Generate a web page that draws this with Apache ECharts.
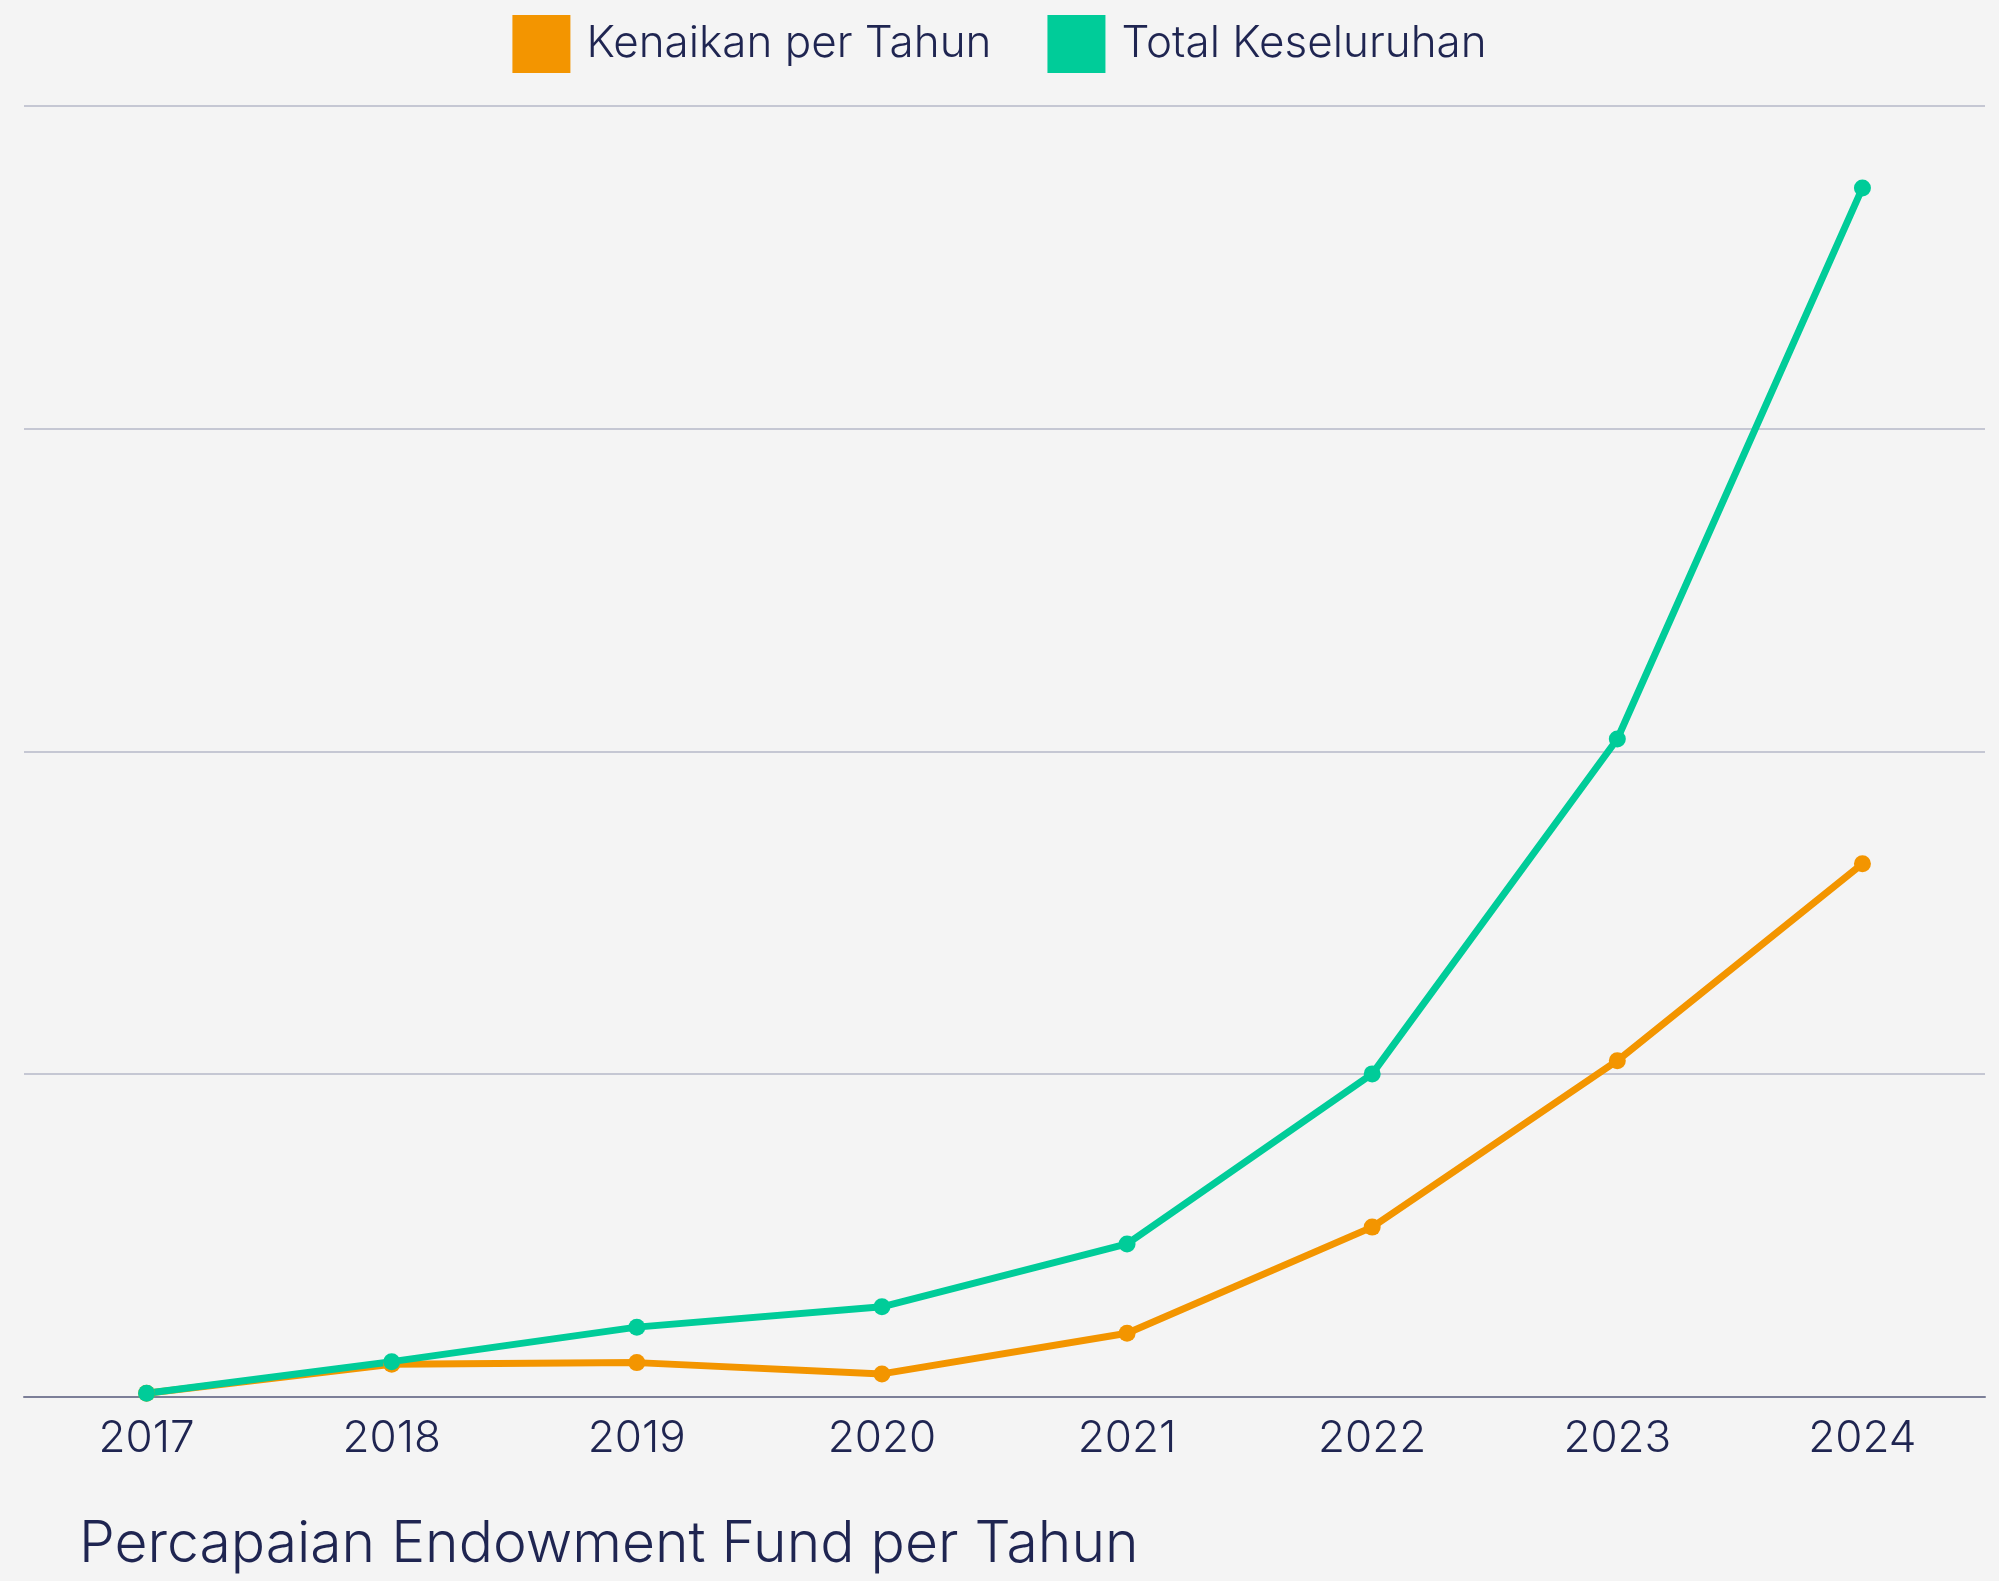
<!DOCTYPE html>
<html>
<head>
<meta charset="utf-8">
<title>Percapaian Endowment Fund per Tahun</title>
<script src="https://cdn.jsdelivr.net/npm/echarts@6/dist/echarts.min.js"></script>
<style>
  html, body { margin: 0; padding: 0; background: #f4f4f4; }
  #chart { width: 1999px; height: 1581px; }
</style>
</head>
<body>
<div id="chart"></div>
<script>
// data (units = one gridline step)
const years = ['2017', '2018', '2019', '2020', '2021', '2022', '2023', '2024'];
const kenaikan = [0.01, 0.10, 0.105, 0.07, 0.196, 0.525, 1.041, 1.651];
const total = [0.01, 0.108, 0.215, 0.278, 0.473, 1.0, 2.038, 3.746];

const INK = '#1f2551';
const FONT = 'Inter';
const ORANGE = '#f39500';
const GREEN = '#00cc99';

const chart = echarts.init(document.getElementById('chart'));
chart.setOption({
  animation: false,
  backgroundColor: '#f4f4f4',
  textStyle: { fontFamily: FONT, color: INK },
  title: {
    text: 'Percapaian Endowment Fund per Tahun',
    left: 74, top: 1511,
    textStyle: { fontFamily: FONT, fontSize: 57, fontWeight: 300, color: INK }
  },
  legend: {
    top: 10, left: 'center',
    itemWidth: 58, itemHeight: 58, itemGap: 56,
    icon: 'rect',
    textStyle: { fontFamily: FONT, fontSize: 44, fontWeight: 300, color: INK, padding: [0, 0, 0, 11] },
    data: ['Kenaikan per Tahun', 'Total Keseluruhan']
  },
  grid: { left: 24, right: 14, top: 106, bottom: 184.5, containLabel: false },
  xAxis: {
    type: 'category',
    data: years,
    boundaryGap: true,
    axisTick: { show: false },
    axisLine: { lineStyle: { color: '#7c7f98', width: 2 } },
    axisLabel: { fontFamily: FONT, fontSize: 44, fontWeight: 300, color: INK, margin: 20 }
  },
  yAxis: {
    type: 'value',
    min: 0, max: 4, interval: 1,
    axisLabel: { show: false },
    axisLine: { show: false },
    axisTick: { show: false },
    splitLine: { lineStyle: { color: '#c5c7d3', width: 2 } }
  },
  series: [
    {
      name: 'Kenaikan per Tahun', type: 'line', data: kenaikan,
      color: ORANGE, symbol: 'circle', symbolSize: 17,
      lineStyle: { width: 7, color: ORANGE }, itemStyle: { color: ORANGE }
    },
    {
      name: 'Total Keseluruhan', type: 'line', data: total,
      color: GREEN, symbol: 'circle', symbolSize: 17,
      lineStyle: { width: 7, color: GREEN }, itemStyle: { color: GREEN }
    }
  ]
});
</script>
</body>
</html>
